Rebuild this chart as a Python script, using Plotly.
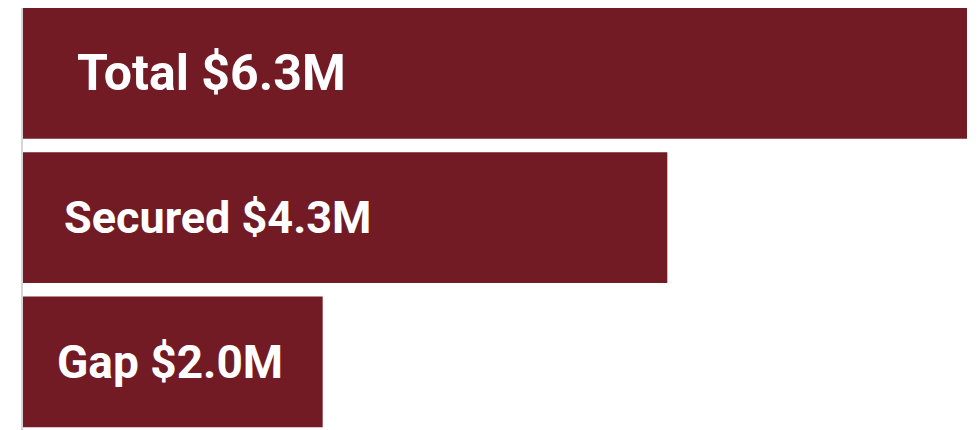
import plotly.graph_objects as go

categories = ["Total", "Secured", "Gap"]
values = [6.3, 4.3, 2.0]
labels = ["Total $6.3M", "Secured $4.3M", "Gap $2.0M"]
label_sizes = [50, 45, 46]
label_shifts = [52, 39, 32]

BAR_COLOR = "#721B25"

fig = go.Figure(
    go.Bar(
        y=categories,
        x=values,
        orientation="h",
        marker=dict(color=BAR_COLOR, line=dict(width=0)),
        hoverinfo="skip",
    )
)

for cat, lab, sz, sh in zip(categories, labels, label_sizes, label_shifts):
    fig.add_annotation(
        x=0, y=cat, xref="x", yref="y",
        text=f"<b>{lab}</b>", showarrow=False,
        xanchor="left", yanchor="middle", xshift=sh,
        font=dict(family="Roboto", size=sz, color="white"),
    )

fig.update_layout(
    width=969, height=422,
    margin=dict(l=15, r=10, t=0, b=0),
    paper_bgcolor="white", plot_bgcolor="white",
    bargap=0.094,
    showlegend=False,
    xaxis=dict(range=[0, 6.3], visible=False, showgrid=False, zeroline=False),
    yaxis=dict(
        range=[2.4716, -0.4529], showticklabels=False, ticks="",
        showgrid=False, zeroline=False,
        showline=True, linecolor="#d6d6d6", linewidth=2,
    ),
)

fig.write_html("out.html")
